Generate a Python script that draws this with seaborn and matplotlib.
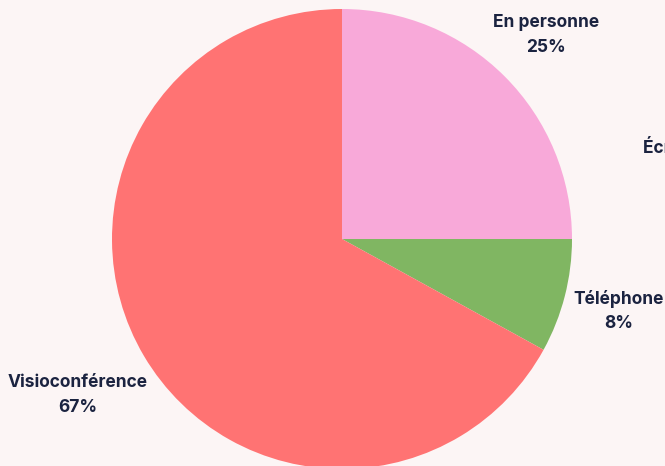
import seaborn as sns
import matplotlib.pyplot as plt

# data
categories = ["En personne", "Téléphone", "Visioconférence", "Écrit (e-mail)"]
shares = [25, 8, 67, 0]
colors = ["#F8A9D9", "#80B662", "#FF7373", "#6C8EBF"]

# label block centres in pixel coords (x, y from top), and alignment
label_pos = [(546, 35, "center"), (619, 311, "center"), (78, 395, "center"), (643, 160, "left")]

BG = "#FCF5F5"
TXT = "#1B2340"

sns.set_theme(style="white")
plt.rcParams['font.family'] = ['Inter', 'DejaVu Sans']

W, H = 665, 466
fig = plt.figure(figsize=(W / 100, H / 100), dpi=100, facecolor=BG)
ax = fig.add_axes([0, 0, 1, 1])
ax.set_facecolor(BG)

ax.pie(shares, colors=colors, startangle=90, counterclock=False,
       center=(342, H - 239), radius=230, frame=True,
       wedgeprops={'linewidth': 0})
ax.set_xlim(0, W)
ax.set_ylim(0, H)
ax.set_aspect('equal')
ax.axis('off')

for name, val, (x, y, ha) in zip(categories, shares, label_pos):
    ax.text(x, H - y, f"{name}\n{val}%", ha=ha, va='center', ma='center',
            fontsize=12.5, fontweight='bold', color=TXT, linespacing=1.6)

fig.savefig("out.png", dpi=100, facecolor=BG)
